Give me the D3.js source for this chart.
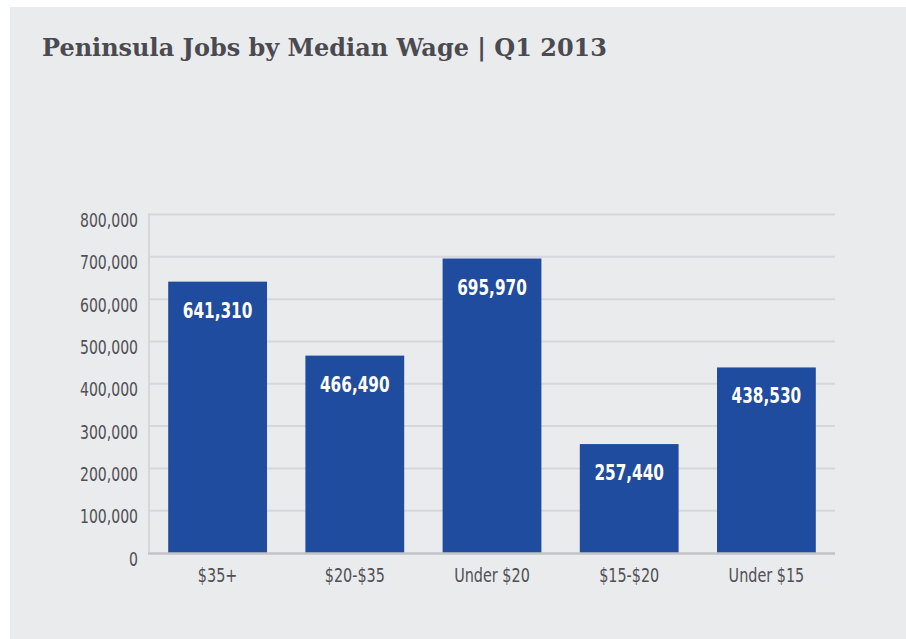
<!DOCTYPE html>
<html>
<head>
<meta charset="utf-8">
<script src="https://cdn.jsdelivr.net/npm/d3@7"></script>
<style>
  html, body { margin: 0; padding: 0; background: #ffffff; }
  svg { display: block; }
  .narrow { font-family: "DejaVu Sans Condensed", "DejaVu Sans", sans-serif; }
</style>
</head>
<body>
<div id="chart"></div>
<script>
// data
var categories = ["$35+", "$20-$35", "Under $20", "$15-$20", "Under $15"];
var jobs = [641310, 466490, 695970, 257440, 438530];
var yTicks = [0, 100000, 200000, 300000, 400000, 500000, 600000, 700000, 800000];
var title = "Peninsula Jobs by Median Wage | Q1 2013";

var svgWidth = 906;
var svgHeight = 639;

var margin = { top: 214.5, bottom: 86, left: 149, right: 71 };
var width = svgWidth - margin.left - margin.right;
var height = svgHeight - margin.top - margin.bottom;

// squeeze text horizontally (the original uses a condensed face)
function condense(sel, k) {
    sel.each(function () {
        var len = this.getComputedTextLength();
        d3.select(this)
            .attr("textLength", len * k)
            .attr("lengthAdjust", "spacingAndGlyphs");
    });
}

var svg = d3.select("#chart")
    .append("svg")
    .attr("width", svgWidth)
    .attr("height", svgHeight);

// gray panel
svg.append("rect")
    .attr("x", 10)
    .attr("y", 7)
    .attr("width", svgWidth - 10)
    .attr("height", svgHeight - 7)
    .attr("fill", "#eaebed");

// title
svg.append("text")
    .attr("x", 42)
    .attr("y", 55.5)
    .attr("font-family", "'DejaVu Serif', 'Liberation Serif', serif")
    .attr("font-weight", "bold")
    .attr("font-size", 23.5)
    .attr("fill", "#4a4a50")
    .attr("textLength", 565)
    .attr("lengthAdjust", "spacingAndGlyphs")
    .text(title);

var chartGroup = svg.append("g")
    .attr("transform", `translate(${margin.left}, ${margin.top})`);

var xBandScale = d3.scaleBand()
    .domain(categories)
    .range([0, width])
    .paddingInner(0.28)
    .paddingOuter(0.14);

var yLinearScale = d3.scaleLinear()
    .domain([0, 800000])
    .range([height, 0]);

// gridlines
chartGroup.selectAll(".grid")
    .data(yTicks.filter(d => d > 0))
    .enter()
    .append("line")
    .attr("x1", 0)
    .attr("x2", width)
    .attr("y1", d => yLinearScale(d))
    .attr("y2", d => yLinearScale(d))
    .attr("stroke", "#d6d7da")
    .attr("stroke-width", 2);

// left axis line
chartGroup.append("line")
    .attr("x1", 0)
    .attr("x2", 0)
    .attr("y1", yLinearScale(800000) - 1)
    .attr("y2", height)
    .attr("stroke", "#d6d7da")
    .attr("stroke-width", 2);

// y axis labels
var yAxis = d3.axisLeft(yLinearScale)
    .tickValues(yTicks)
    .tickSize(0)
    .tickPadding(11)
    .tickFormat(d3.format(","));

var yG = chartGroup.append("g")
    .attr("class", "narrow")
    .call(yAxis);
yG.select(".domain").remove();
yG.selectAll("text")
    .attr("dy", "12")
    .attr("font-size", 19.5)
    .attr("fill", "#505055")
    .call(condense, 0.8);

// bars
chartGroup.selectAll(".bar")
    .data(jobs)
    .enter()
    .append("rect")
    .attr("x", (d, i) => xBandScale(categories[i]))
    .attr("y", d => yLinearScale(d))
    .attr("width", xBandScale.bandwidth())
    .attr("height", d => height - yLinearScale(d))
    .attr("fill", "#1f4c9f");

// bar value labels
chartGroup.selectAll(".value")
    .data(jobs)
    .enter()
    .append("text")
    .attr("class", "narrow")
    .attr("x", (d, i) => xBandScale(categories[i]) + xBandScale.bandwidth() / 2)
    .attr("y", d => yLinearScale(d) + 36)
    .attr("text-anchor", "middle")
    .attr("font-size", 21.5)
    .attr("font-weight", "bold")
    .attr("fill", "#ffffff")
    .text(d => d3.format(",")(d))
    .call(condense, 0.79);

// baseline
chartGroup.append("line")
    .attr("x1", -1)
    .attr("x2", width)
    .attr("y1", height + 0.5)
    .attr("y2", height + 0.5)
    .attr("stroke", "#c2c3c6")
    .attr("stroke-width", 2.5);

// x axis labels
var xAxis = d3.axisBottom(xBandScale)
    .tickSize(0)
    .tickPadding(0);

var xG = chartGroup.append("g")
    .attr("class", "narrow")
    .attr("transform", `translate(0, ${height})`)
    .call(xAxis);
xG.select(".domain").remove();
xG.selectAll("text")
    .attr("dy", null)
    .attr("y", 29)
    .attr("font-size", 19.5)
    .attr("fill", "#505055")
    .call(condense, 0.82);
</script>
</body>
</html>
